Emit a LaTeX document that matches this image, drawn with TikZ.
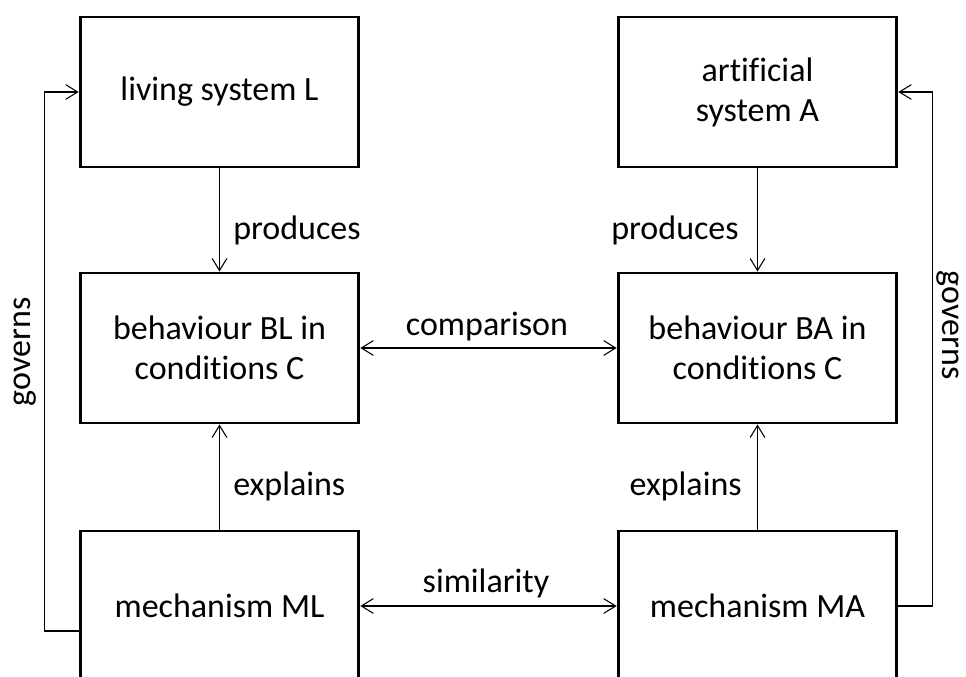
\documentclass[tikz,border=0pt]{standalone}
\usepackage{fontspec}
\setmainfont[Ligatures=NoCommon]{Carlito}
\usetikzlibrary{arrows.meta}
\usetikzlibrary{positioning}

\begin{document}
\begin{tikzpicture}[x=0.75pt, y=-0.75pt,
    font=\fontsize{25.5}{30}\selectfont,
    >={Straight Barb[length=9pt, width=11pt]},
    box/.style={draw, line width=2.2pt, rectangle, minimum width=209pt, minimum height=112.5pt, align=center},
    conn/.style={line width=0.8pt},
    lbl/.style={inner sep=0pt}]
    \clip (0,0) rectangle (966,677);

    \node[box] (L)  at (219.5,92)  {living system L};
    \node[box] (A)  at (757.5,92)  {artificial\\system A};
    \node[box] (BL) at (219.5,348) {behaviour BL in\\conditions C};
    \node[box] (BA) at (757.5,348) {behaviour BA in\\conditions C};
    \node[box] (ML) at (219.5,606) {mechanism ML};
    \node[box] (MA) at (757.5,606) {mechanism MA};

    \draw[conn, ->] (L) -- (BL);
    \draw[conn, ->] (A) -- (BA);
    \draw[conn, ->] (ML) -- (BL);
    \draw[conn, ->] (MA) -- (BA);
    \draw[conn, <->] (BL) -- (BA);
    \draw[conn, <->] (ML) -- (MA);
    \draw[conn, ->] ([yshift=-18.75pt]ML.west) -- ++(-34,0) |- (L.west);
    \draw[conn, ->] (MA.east) -- ++(34,0) |- (A.east);

    \node[lbl, anchor=west] (p1) at (233,230) {produces};
    \node[lbl, anchor=east] (p2) at (739,230) {produces};
    \node[lbl, anchor=west] (e1) at (233,486) {explains};
    \node[lbl, anchor=east] (e2) at (742,486) {explains};
    \node[lbl] (cmp) at (487,327) {comparison};
    \node[lbl] (sim) at (486,583) {similarity};
    \node[lbl, rotate=90]  (g1) at (25,352) {governs};
    \node[lbl, rotate=-90] (g2) at (948,325) {governs};
\end{tikzpicture}
\end{document}
